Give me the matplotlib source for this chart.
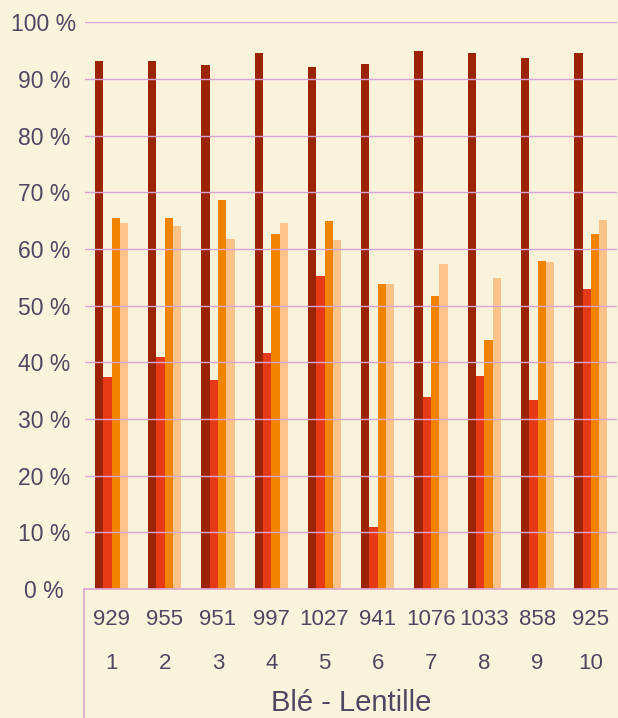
import numpy as np
import matplotlib.pyplot as plt
from matplotlib.ticker import FuncFormatter

plt.rcParams['font.family'] = ['Liberation Sans', 'DejaVu Sans']

# data
groups = ['1', '2', '3', '4', '5', '6', '7', '8', '9', '10']
counts = ['929', '955', '951', '997', '1027', '941', '1076', '1033', '858', '925']
serie1 = [93.2, 93.2, 92.5, 94.6, 92.1, 92.6, 94.9, 94.6, 93.7, 94.6]
serie2 = [37.4, 40.9, 36.9, 41.6, 55.3, 10.9, 33.9, 37.6, 33.4, 52.9]
serie3 = [65.5, 65.5, 68.6, 62.6, 64.9, 53.8, 51.7, 43.9, 57.9, 62.6]
serie4 = [64.6, 64.1, 61.8, 64.6, 61.6, 53.8, 57.3, 54.9, 57.7, 65.1]
colors = ['#9B2306', '#E63A17', '#F08300', '#F9C38A']

bg = '#FAF3DC'
text_col = '#4E4662'
grid_col = '#D8A6D4'

fig = plt.figure(figsize=(6.18, 7.18), dpi=100, facecolor=bg)
ax = fig.add_axes([0.1374, 0.1797, 0.8617, 0.789])
ax.set_facecolor(bg)

x = np.arange(len(groups))
w = 0.156
for i, vals in enumerate([serie1, serie2, serie3, serie4]):
    ax.bar(x + (i - 1.5) * w, vals, width=w, color=colors[i], linewidth=0)

ax.set_xlim(-0.5, len(groups) - 0.5)
ax.set_ylim(0, 100)
ax.set_yticks(np.arange(0, 101, 10))
ax.yaxis.set_major_formatter(FuncFormatter(lambda v, p: f'{int(v)} %'))
ax.tick_params(axis='y', length=0, pad=29.5, labelsize=16.5, labelcolor=text_col)
for lab in ax.get_yticklabels():
    lab.set_horizontalalignment('center')

# two rows of category labels under the bars
ax.set_xticks(x)
ax.set_xticklabels([])
ax.tick_params(axis='x', length=0)
for xi, c, g in zip(x, counts, groups):
    ax.text(xi, -0.054, c, transform=ax.get_xaxis_transform(), ha='center',
            va='center', fontsize=16, color=text_col)
    ax.text(xi, -0.131, g, transform=ax.get_xaxis_transform(), ha='center',
            va='center', fontsize=16, color=text_col)

ax.text(0.5, -0.202, 'Blé - Lentille', transform=ax.transAxes, ha='center',
        va='center', fontsize=21, color=text_col)

ax.set_axisbelow(False)
ax.grid(axis='y', color=grid_col, linewidth=1.0)
ax.grid(axis='x', visible=False)
for s in ['top', 'right', 'left']:
    ax.spines[s].set_visible(False)
ax.spines['bottom'].set_color(grid_col)
ax.spines['bottom'].set_linewidth(1.2)
ax.plot([-0.001, -0.001], [0, -0.25], transform=ax.transAxes, color=grid_col,
        linewidth=1.2, clip_on=False)

fig.savefig('out.png', dpi=100, facecolor=bg)
